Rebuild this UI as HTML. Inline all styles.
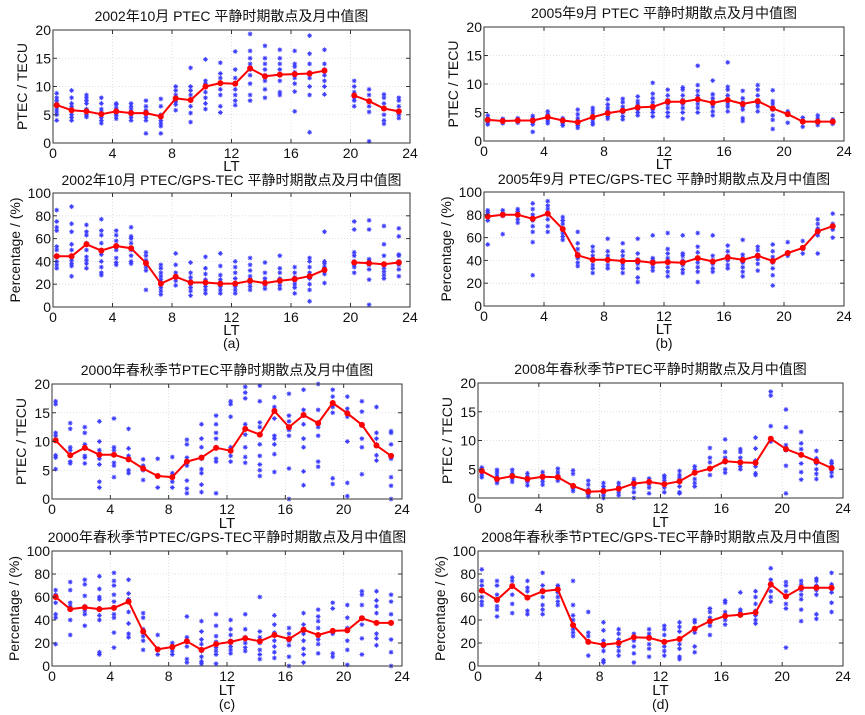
<!DOCTYPE html>
<html><head><meta charset="utf-8">
<style>
html,body{margin:0;padding:0;background:#fff;}
svg{display:block;font-family:"Liberation Sans","Noto Sans CJK SC",sans-serif;}
</style></head>
<body>
<svg id="fig" width="865" height="715" viewBox="0 0 865 715" xmlns="http://www.w3.org/2000/svg"></svg>
<script>
const hours = [0,1,2,3,4,5,6,7,8,9,10,11,12,13,14,15,16,17,18,19,20,21,22,23];
const xTicks = [0,4,8,12,16,20,24];
const yTicksTec = [0,5,10,15,20];
const yTicksPct = [0,20,40,60,80,100];

const medA1 = [6.7,5.8,5.6,5.1,5.6,5.3,5.3,4.7,7.9,7.6,10,10.6,10.5,13.2,11.8,12.1,12.2,12.3,12.8,null,8.4,7.4,6.1,5.6];
const medA2 = [44.5,44.5,55,49.5,53.5,51.5,38.5,20.5,26.5,21.5,21.5,20.5,20.5,23,21,23,24.5,27,32.5,null,39,38.5,37.5,39];
const medB1 = [3.7,3.5,3.6,3.6,4.2,3.6,3.3,4.2,4.9,5.3,5.9,6.0,6.9,6.9,7.3,6.7,7.2,6.5,7.0,5.7,4.7,3.4,3.4,3.4];
const medB2 = [78.5,80,80,76.5,81,67.5,44.5,40.5,40.5,39.5,39.5,38,38.5,38,42,39,42.5,40.5,44,39.5,46.5,51,65.5,70];
const medC1 = [10.2,7.6,8.9,7.7,7.7,6.9,5.3,4.0,3.8,6.5,7.2,8.9,8.4,12.2,11.2,15.3,12.5,14.6,13.2,16.7,14.9,12.9,9.3,7.5];
const medC2 = [60,49.5,51,49.5,50.5,56,30,14.5,16.5,21.5,14,19,21,24,21.5,27,23.5,31.5,27,30.5,31,41.5,37.5,37.5];
const medD1 = [4.7,3.3,3.8,3.3,3.7,3.6,2.1,1.1,1.2,1.6,2.5,2.8,2.4,2.9,4.4,5.1,6.4,6.2,6.1,10.3,8.5,7.5,6.4,5.2];
const medD2 = [65.5,57.5,69.5,59.5,65,66.5,35.5,21,18.5,20,25,24.5,21,23.5,32.5,39,43.5,44.5,46.5,71,60.5,68,68,68];

const scatA1 = [[4,5,5.5,6,6.5,7,7.5,8,8.8],[4,4.5,5,6,6.5,7,8,9.3],[4.6,5,5.5,6,7,7.5,8,8.5],[3.5,4,4.5,5,5.5,6,7,8],[4.3,4.8,5.2,5.8,6.2,6.8,7],[4,4.5,5,5.5,6,6.5,7],[1.7,4,4.5,5,5.8,6.5,7.5],[1.7,3,3.5,4,5,6.5,7.8],[5.8,6.8,7.3,8,8.5,9.3,10],[3.7,5.3,6.5,7.5,8.5,9.3,10,13.3],[6,7,8,9,10,10.5,11,14.8],[5.4,6.5,8.5,9.5,10.5,11.5,12.3,14.2],[6.7,7.5,8.5,9.5,10.5,11.5,13,16.2],[7.5,8.5,10.5,12,13,14,15,16.3,19.3],[8,9.5,11,12,13,14,15,17.2],[8.5,9,11,12,13,14,15,16.5],[5.6,9.1,10.5,11.5,12.5,13.5,14,16.3],[1.9,8.5,10,11.5,12.5,14,15.8,19],[8.6,10,11,12,13,14,16.5],[],[6.5,7.5,8,9,10,11],[0.3,5.5,6.5,7.5,8.5,9.5],[3.4,4,5,6,7,8,8.6],[4.4,5,5.5,6.5,7.5,8]];
const scatA2 = [[34,37,40,45,50,53,67,70,75,85],[27,36,38,41,45,50,55,66,73,88],[34,38,41,44,50,56,63,66,72],[28,30,35,40,46,50,56,63,67,77],[37,39,43,50,54,58,63,67],[38,40,45,50,56,60,62,70],[15,32,35,38,41,45,48],[11,14,17,20,24,27,30,34,37],[19,23,26,30,37,47],[10,14,17,20,23,26,30,39],[12,15,18,21,24,29,34,44],[12,15,18,21,24,28,36,47],[12,15,18,21,25,30,35,40],[15,18,21,24,27,32,37,43],[16,19,22,25,30,39],[16,19,22,25,30,34,45],[12,17,20,23,26,30,35],[5,15,20,25,30,35,40,43],[21,29,32,35,38,40,66],[],[30,35,37,40,45,48,68,75],[2,24,33,37,40,42,68,76],[25,28,31,34,38,45,55,71],[27,33,37,40,45,46,62,69]];
const scatB1 = [[2.9,3.3,3.7,4,4.5],[3.1,3.4,3.7,3.9],[3.2,3.5,3.8,4],[1.6,2.9,3.3,3.7,4,4.4],[3.1,3.5,3.9,4.3,4.7,5.2],[2.7,3,3.3,3.7,4],[2.3,2.7,3,3.5,4,4.7,5.5],[2.9,3.3,3.8,4.3,4.8,5.3,5.8],[3.9,4.3,4.8,5.3,5.8,6.4,7.3],[3.8,4.3,5,5.5,6,6.8,7.4],[4.5,5,5.5,6,6.5,7,7.8],[4.3,5,5.5,6,6.8,7.5,8.3,10.2],[4.3,5,5.8,6.5,7.2,8,9],[3.9,5,5.8,6.5,7.2,8,9,9.4],[5,5.8,6.5,7.2,8,8.8,9.8,13.2],[4.5,5.2,6,6.7,7.5,8.2,10.6],[5.2,6,6.5,7.2,8,9,9.5,13.8],[3.5,4,5.5,6,6.8,7.5,8.8],[5.2,6,6.5,7,8,9,9.8],[2.1,3.7,4.5,5.5,6.5,7,8.9],[3.2,4.7,5.2],[2.5,3.5,4.1],[2.8,3.3,4,4.5],[3,3.4,3.8]];
const scatB2 = [[54,75,78,80,82,84],[63,79,81,84],[73,76,80,83,85],[27,56,65,70,75,80,85,90],[65,70,76,80,85,88,92],[58,61,64,68,72,75,78],[35,38,42,46,50,55,65],[29,33,36,40,44,48,52],[33,36,40,44,48,59],[29,33,36,40,44,48,55],[21,25,33,37,41,46,59],[31,34,37,40,42,62],[26,30,34,38,42,46,50,64],[29,32,36,40,44,46,62],[21,30,34,38,42,47,52,64],[30,33,37,40,44,62],[33,36,40,44,48,53],[26,30,34,38,42,45,58],[31,37,41,45,49,52],[18,27,33,38,43,48,54],[44,47,56],[46,50,57],[46,62,68,72,76],[60,67,72,81]];
const scatC1 = [[5.2,7.2,7.6,11,11.5,16.5,17],[6.2,6.5,8.5,9,12.2,13.2],[6.2,7.2,7.5,9.5,11.5,12.5],[2,3,6,7,8.5,10,13.5],[3.8,5.8,6.3,8.5,9,14],[4.5,5,7.5,8.8,12.2],[3.3,5,5.8,6.9],[2,7],[2,3,4.5,7.3],[1,1.8,3.2,5.8,7.2,9.5,10.3],[1.2,2.5,4.5,5.2,7,9,10.5,13],[1,6.5,7,9,10.5,11.5,13,14.5],[6.5,7.5,9,14.3,16.5,17],[6.3,7.3,9,11.2,13,17.5,18.5,19.5],[4,5,6,7.5,9.5,12.5,13.3,17,19.7],[4.7,7.8,9.5,10.5,11,14,16,17.7],[0,5.3,11,12,13.5,14.5,18.3],[2.4,4.8,9,10.5,13,15.5,19],[5.6,6.5,11,12.5,15.5,20],[2.6,3.6,15,16,17.8,19],[0.5,2.8,10,14.3,15.7,17.8],[4.3,9,10.5,13,15.2,17],[6.7,7.6,9.5,10.5,11.5,16],[0,2.3,3.8,7,9.5,11.5,11.8]];
const scatC2 = [[19,42,45,55,62,66],[27,40,52,55,66,73],[35,45,48,52,61,71,75],[10,12,40,44,50,58,60,67,78],[16,29,42,45,56,62,70,74,81],[25,28,37,47,58,63,75],[14,22,26,32,42,46],[10,27],[10,13,17,20],[3,6,17,25,43],[2,4,8,13,19,23,30,39],[2,10,13,16,21,26,35,45],[11,14,17,22,27,32,40],[13,16,20,25,32,45],[6,10,14,20,25,30,60],[7,12,17,22,29,36,44],[0,8,18,22,28,33],[3,10,15,22,28,36,46],[11,19,23,33,39,43,49],[8,11,28,30,50,55],[1,14,22,33,42,53],[10,24,36,41,53,62,65],[18,24,28,37,46,52,57,65],[0,12,23,37,45,56,62]];
const scatD1 = [[3.6,4,4.5,5,5.3],[2.6,3,3.5,4,4.5,4.9],[2.8,3.3,3.8,4.3,4.9],[2.2,2.8,3.3,3.8,4.3],[2.3,2.9,3.4,3.9,4.5],[3,3.5,4,4.5,5.1],[1.2,1.6,2,4.2,4.8],[0.2,0.6,1,1.5,2.3,3],[0,0.5,1,1.5,2,2.6],[0.5,1,1.5,2,2.6],[0,1,1.8,2.4,2.9,3.3],[0.8,1.8,2.4,2.9,3.4],[1,1.8,2.4,3,3.5,3.9],[0.8,1,2,3,3.5,4,4.7],[2,2.6,3.3,4.5,5,5.5],[4,5,6.2,7,8.7],[4.4,5,6.2,7,8,10.2],[5,5.5,6,7,8,8.5],[4,4.3,5.5,6.5,8.6,10.5],[9.8,10.3,12.5,17.8,18.5],[0.8,5.6,8.3,9.2,12.3,15.4],[3.2,4.5,6,7.5,8.5,9.5,11.5],[3.3,4.2,5,6,6.9,8.2],[3.8,4.5,5,5.5,6,6.4]];
const scatD2 = [[53,56,60,66,70,74,84],[43,49,52,57,62,70,74],[46,54,62,70,74,77],[45,48,59,65,68,74],[45,49,53,60,66,70,81],[53,56,60,64,68,70],[26,29,32,40,44,53,74],[9,21,26,29,47],[3,5,13,17,22,31,38],[9,13,17,23,28,32],[3,11,17,22,25,28],[8,15,19,24,28,32],[9,13,17,21,27,32,35],[6,8,15,19,24,30,34,38],[12,17,29,32,38,40],[27,35,38,42,47,50],[36,40,43,47,55,57],[44,47,49,64],[37,40,44,48,54,60,65],[56,60,65,70,75,85],[16,50,54,60,65,70,73],[39,49,58,62,66,71,74],[41,45,62,66,70,74,76],[47,55,64,67,71,81]];

const NS = "http://www.w3.org/2000/svg";
const fig = document.getElementById('fig');
function el(tag, attrs, parent, txt){
  const e = document.createElementNS(NS, tag);
  for (const k in attrs) e.setAttribute(k, attrs[k]);
  if (txt !== undefined) e.textContent = txt;
  (parent||fig).appendChild(e);
  return e;
}

function panel(id, x0, x1, y0, y1, ymax, yTicks, ylabel, title, titleY, med, scat, ltY, cap, capY){
  const g = el('g', {}, fig);
  
  
  const sx = h => x0 + h / 24 * (x1 - x0);
  const sy = v => y1 - v / ymax * (y1 - y0);
  xTicks.forEach(t => {
    if (t > 0 && t < 24) {
      const l = el('line', {x1:sx(t), x2:sx(t), y1:y0, y2:y1, stroke:'#d8d8d8', 'stroke-width':0.8, 'stroke-dasharray':'1,2'}, g);
      
      
    }
  });
  yTicks.forEach(t => {
    if (t > 0 && t < ymax) {
      const l = el('line', {x1:x0, x2:x1, y1:sy(t), y2:sy(t), stroke:'#d8d8d8', 'stroke-width':0.8, 'stroke-dasharray':'1,2'}, g);
      
      
    }
  });
  hours.forEach((h, i) => {
    scat[i].forEach(v => {
      const cx = sx(h + 0.25), cy = sy(v), r = 2.4;
      const s = el('path', {d:`M${cx-r},${cy}H${cx+r}M${cx},${cy-r}V${cy+r}M${cx-r*0.7},${cy-r*0.7}L${cx+r*0.7},${cy+r*0.7}M${cx-r*0.7},${cy+r*0.7}L${cx+r*0.7},${cy-r*0.7}`, stroke:'#3b3bff', 'stroke-width':0.9, fill:'none'}, g);
      
      
    });
  });
  let d = '', pen = false;
  hours.forEach((h, i) => {
    if (med[i] === null) { pen = false; return; }
    d += (pen ? 'L' : 'M') + sx(h + 0.25).toFixed(1) + ',' + sy(med[i]).toFixed(1);
    pen = true;
  });
  const ml = el('path', {d:d, stroke:'#ff0000', 'stroke-width':2, fill:'none', 'stroke-linejoin':'round'}, g);
  
  
  hours.forEach((h, i) => {
    if (med[i] === null) return;
    const c = el('circle', {cx:sx(h + 0.25), cy:sy(med[i]), r:3, fill:'#ff0000'}, g);
    
    
  });
  const box = el('rect', {x:x0, y:y0, width:x1-x0, height:y1-y0, fill:'none', stroke:'#333', 'stroke-width':1}, g);
  
  
  xTicks.forEach(t => {
    el('line', {x1:sx(t), x2:sx(t), y1:y1, y2:y1-4, stroke:'#333'}, g);
    el('line', {x1:sx(t), x2:sx(t), y1:y0, y2:y0+4, stroke:'#333'}, g);
    const tl = el('text', {x:sx(t), y:y1+15, 'font-size':14, 'text-anchor':'middle', fill:'#111'}, g, String(t));
    
    
  });
  yTicks.forEach(t => {
    el('line', {x1:x0, x2:x0+4, y1:sy(t), y2:sy(t), stroke:'#333'}, g);
    el('line', {x1:x1, x2:x1-4, y1:sy(t), y2:sy(t), stroke:'#333'}, g);
    const tl = el('text', {x:x0-2, y:sy(t)+5, 'font-size':14, 'text-anchor':'end', fill:'#111'}, g, String(t));
    
    
  });
  const xl = el('text', {x:(x0+x1)/2, y:ltY, 'font-size':15, 'text-anchor':'middle', fill:'#111'}, g, 'LT');
  
  
  const yx = x0 - (ymax === 100 ? 33 : 26), yc = (y0+y1)/2;
  const yl = el('text', {x:yx, y:yc, 'font-size':14, 'text-anchor':'middle', fill:'#111', transform:`rotate(-90 ${yx} ${yc})`}, g, ylabel);
  
  
  const tt = el('text', {x:(x0+x1)/2, y:titleY, 'font-size':14, 'text-anchor':'middle', fill:'#111'}, g, title);
  
  
  if (cap) {
    const ct = el('text', {x:(x0+x1)/2, y:capY, 'font-size':14, 'text-anchor':'middle', fill:'#111'}, g, cap);
    
    
  }
}

panel('a-ptec', 53, 410, 30, 143, 20, yTicksTec, 'PTEC / TECU', '2002年10月 PTEC 平静时期散点及月中值图', 21, medA1, scatA1, 171, null, 0);
panel('a-pct', 53, 410, 193, 307, 100, yTicksPct, 'Percentage / (%)', '2002年10月 PTEC/GPS-TEC 平静时期散点及月中值图', 185, medA2, scatA2, 335, '(a)', 348);
panel('b-ptec', 484, 844, 27, 141, 20, yTicksTec, 'PTEC / TECU', '2005年9月 PTEC 平静时期散点及月中值图', 18, medB1, scatB1, 169, null, 0);
panel('b-pct', 484, 844, 192, 306, 100, yTicksPct, 'Percentage / (%)', '2005年9月 PTEC/GPS-TEC 平静时期散点及月中值图', 184, medB2, scatB2, 334, '(b)', 348);
panel('c-ptec', 52, 402, 384, 499, 20, yTicksTec, 'PTEC / TECU', '2000年春秋季节PTEC平静时期散点及月中值图', 375, medC1, scatC1, 528, null, 0);
panel('c-pct', 52, 402, 551, 666, 100, yTicksPct, 'Percentage / (%)', '2000年春秋季节PTEC/GPS-TEC平静时期散点及月中值图', 542, medC2, scatC2, 695, '(c)', 709);
panel('d-ptec', 478, 843, 383, 498, 20, yTicksTec, 'PTEC / TECU', '2008年春秋季节PTEC平静时期散点及月中值图', 374, medD1, scatD1, 527, null, 0);
panel('d-pct', 478, 843, 551, 666, 100, yTicksPct, 'Percentage / (%)', '2008年春秋季节PTEC/GPS-TEC平静时期散点及月中值图', 542, medD2, scatD2, 695, '(d)', 709);
</script>
</body></html>
